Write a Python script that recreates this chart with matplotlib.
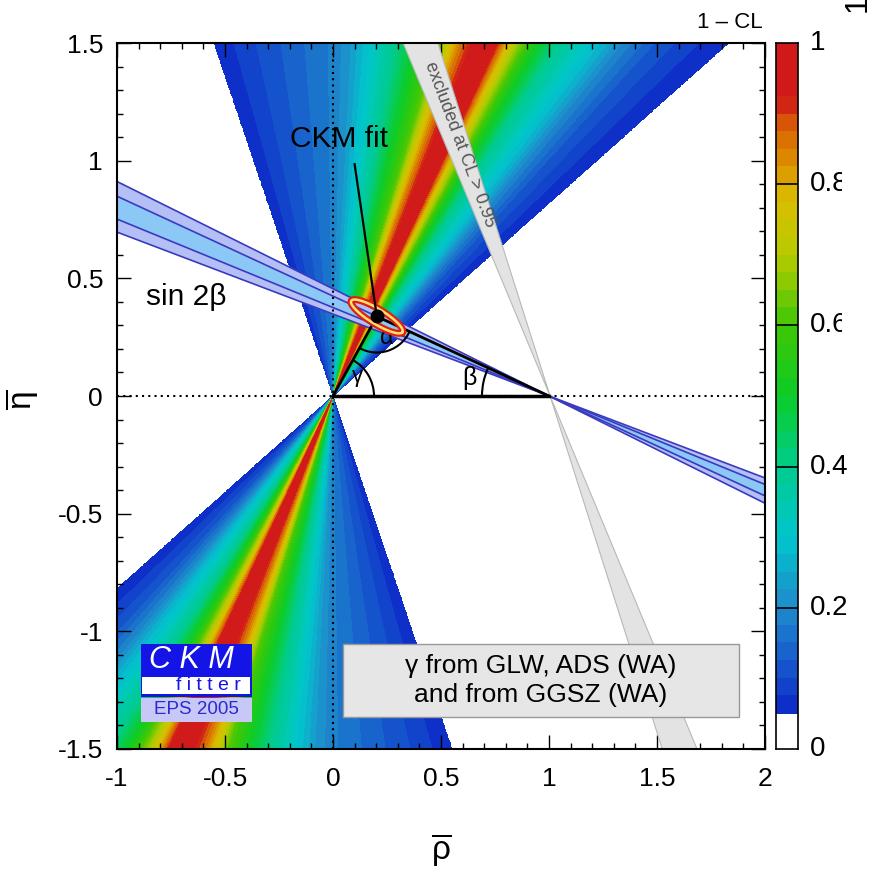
import numpy as np
import matplotlib
matplotlib.use('Agg')
import matplotlib.pyplot as plt
from matplotlib.colors import LinearSegmentedColormap, ListedColormap, BoundaryNorm
from matplotlib.patches import Arc, Rectangle, Polygon
from matplotlib.transforms import Bbox, TransformedBbox, IdentityTransform

plt.rcParams['font.family'] = ['Liberation Sans', 'DejaVu Sans']
plt.rcParams['mathtext.fontset'] = 'custom'
plt.rcParams['mathtext.rm'] = 'Liberation Sans'
plt.rcParams['mathtext.it'] = 'Liberation Sans:italic'
plt.rcParams['axes.unicode_minus'] = False

# ---------------- data ----------------
# gamma constraint: 1-CL versus polar angle (deg) of (rho, eta) around origin
gamma_angle = [39.3, 42, 45, 48, 50, 53, 55.3, 58, 60, 61.5, 62.5, 63.2, 65,
               67, 68.5, 70, 72, 75, 79, 83, 87, 90, 95, 100, 105, 110.2]
gamma_cl = [0.051, 0.08, 0.12, 0.19, 0.26, 0.34, 0.40, 0.52, 0.65, 0.76, 0.86, 0.93, 1.0,
            0.92, 0.85, 0.76, 0.62, 0.52, 0.40, 0.31, 0.22, 0.18, 0.15, 0.12, 0.09, 0.051]

# sin2beta band: beta angles (deg) around (1, 0)
beta_outer = [19.2, 24.5]
beta_inner = [20.6, 23.0]

# grey excluded band: hourglass around apex, edge angles (deg)
grey_apex = (1.005, 0.0)
grey_angles = [109.1, 114.4]

# CKM fit
fit_rho, fit_eta = 0.203, 0.338
fit_label_from = (0.10, 0.985)

# colour scale
cmap_values = [0.05, 0.10, 0.20, 0.30, 0.40, 0.50, 0.60, 0.70, 0.78, 0.85, 0.90, 0.92, 1.00]
cmap_colors = [(0.05, 0.15, 0.78), (0.08, 0.30, 0.80), (0.12, 0.55, 0.80), (0.00, 0.78, 0.80),
               (0.00, 0.80, 0.55), (0.05, 0.80, 0.15), (0.25, 0.78, 0.02), (0.72, 0.80, 0.00),
               (0.86, 0.74, 0.00), (0.86, 0.50, 0.00), (0.84, 0.28, 0.05), (0.82, 0.10, 0.10),
               (0.82, 0.10, 0.10)]

x_ticks = [-1, -0.5, 0, 0.5, 1, 1.5, 2]
x_ticklabels = ['-1', '-0.5', '0', '0.5', '1', '1.5', '2']
y_ticks = [-1.5, -1, -0.5, 0, 0.5, 1, 1.5]
y_ticklabels = ['-1.5', '-1', '-0.5', '0', '0.5', '1', '1.5']
cb_ticks = [0, 0.2, 0.4, 0.6, 0.8, 1]
cb_ticklabels = ['0', '0.2', '0.4', '0.6', '0.8', '1']

# ---------------- colour map ----------------
base = LinearSegmentedColormap.from_list(
    'ckm', [((v - cmap_values[0]) / (cmap_values[-1] - cmap_values[0]), c)
            for v, c in zip(cmap_values, cmap_colors)])
bounds = np.concatenate([[0.0], np.arange(0.05, 1.0001, 0.025)])
bounds[-1] = 1.001
mids = 0.5 * (bounds[1:-1] + bounds[2:])
cols = ['white'] + [base((m - 0.05) / 0.95) for m in mids]
cmap = ListedColormap(cols)
norm = BoundaryNorm(bounds, cmap.N)

# ---------------- figure ----------------
W, H = 872, 869
fig = plt.figure(figsize=(W / 100, H / 100), dpi=100)
L, R, T, B = 117, 765, 43, 749
ax = fig.add_axes([L / W, 1 - B / H, (R - L) / W, (B - T) / H])
ax.set_xlim(-1, 2)
ax.set_ylim(-1.5, 1.5)

# gamma wedge
rr = np.linspace(-1, 2, 900)
ee = np.linspace(-1.5, 1.5, 900)
RR, EE = np.meshgrid(rr, ee)
theta = np.degrees(np.arctan2(EE, RR)) % 180
Z = np.interp(theta, gamma_angle, gamma_cl, left=0, right=0)
ax.contourf(RR, EE, Z, levels=bounds, cmap=cmap, norm=norm, zorder=1)

# grey excluded band
ga, gb = np.radians(grey_angles)
Lg = 3.0
ax0, ay0 = grey_apex
up = [(ax0, ay0), (ax0 + Lg * np.cos(ga), ay0 + Lg * np.sin(ga)),
      (ax0 + Lg * np.cos(gb), ay0 + Lg * np.sin(gb))]
dn = [(ax0, ay0), (ax0 - Lg * np.cos(ga), ay0 - Lg * np.sin(ga)),
      (ax0 - Lg * np.cos(gb), ay0 - Lg * np.sin(gb))]
for poly in (up, dn):
    ax.add_patch(Polygon(poly, closed=True, facecolor='#e3e3e3', edgecolor='#b8b8b8',
                         lw=0.8, zorder=2))
gmid = np.radians(np.mean(grey_angles))
t_along = 1.15
ax.text(ax0 + t_along * np.cos(gmid) + 0.01, ay0 + t_along * np.sin(gmid), 'excluded at CL > 0.95',
        rotation=-69.5, rotation_mode='anchor', ha='center', va='center',
        fontsize=13, color='#555555', zorder=3)

# sin2beta band
rho_line = np.array([-1.0, 2.0])
def beta_line(b):
    return -np.tan(np.radians(b)) * (rho_line - 1)
ax.fill_between(rho_line, beta_line(beta_outer[0]), beta_line(beta_outer[1]),
                color='#b4bff5', lw=0, zorder=3)
ax.fill_between(rho_line, beta_line(beta_inner[0]), beta_line(beta_inner[1]),
                color='#8cc8f5', lw=0, zorder=3)
for b in beta_outer + beta_inner:
    ax.plot(rho_line, beta_line(b), color='#3a3ac0', lw=1.2, zorder=3.5)

# dotted axes lines
ax.axhline(0, color='black', ls=(0, (1, 2)), lw=1.5, zorder=4)
ax.axvline(0, color='black', ls=(0, (1, 2)), lw=1.5, zorder=4)

# triangle
ax.plot([0, 1], [0, 0], color='black', lw=2.5, zorder=5)
ax.plot([0, fit_rho, 1], [0, fit_eta, 0], color='black', lw=2.0, zorder=5)

# angle arcs (circular on screen)
sx, sy = 216.0, 235.0
def arc(cx, cy, rpx, t1, t2):
    ax.add_patch(Arc((cx, cy), 2 * rpx / sx, 2 * rpx / sy, theta1=t1, theta2=t2,
                     color='black', lw=1.5, zorder=5))
ang_g = np.degrees(np.arctan2(fit_eta, fit_rho))
ang_b = np.degrees(np.arctan2(fit_eta, fit_rho - 1))
arc(0, 0, 41, 0, ang_g)
arc(1, 0, 67, ang_b, 180)
a1 = np.degrees(np.arctan2(-fit_eta, -fit_rho)) % 360
a2 = np.degrees(np.arctan2(-fit_eta, 1 - fit_rho)) % 360
arc(fit_rho, fit_eta, 36, a1, a2)
ax.text(0.115, 0.075, r'$\mathrm{γ}$', fontsize=16, ha='center', va='center', zorder=6)
ax.text(0.632, 0.078, 'β', fontsize=18, ha='center', va='center', zorder=6)
ax.text(0.25, 0.245, 'α', fontsize=17, ha='center', va='center', zorder=6)

# CKM fit contour
t = np.linspace(0, 2 * np.pi, 200)
phi = np.radians(31.4)
a_px, b_px = 30, 7.5
ex = fit_rho + (a_px * np.cos(phi) * np.cos(t) + b_px * np.sin(phi) * np.sin(t)) / sx
ey = fit_eta + (-a_px * np.sin(phi) * np.cos(t) + b_px * np.cos(phi) * np.sin(t)) / sy
ax.plot(ex, ey, color='#e02010', lw=5, zorder=6)
ax.plot(ex, ey, color='#ffe070', lw=1.8, zorder=6.1)
ax.plot([fit_label_from[0], fit_rho], [fit_label_from[1], fit_eta], color='black', lw=1.6, zorder=6.2)
ax.plot([fit_rho], [fit_eta], 'o', color='black', ms=9, zorder=6.3)
ax.text(0.03, 1.09, 'CKM fit', fontsize=21.5, ha='center', va='center', zorder=7)
ax.text(-0.68, 0.42, 'sin 2β', fontsize=21.5, ha='center', va='center', zorder=7)

# legend box
ax.add_patch(Rectangle((0.044, -1.365), 1.835, 0.31, facecolor='#e6e6e6', edgecolor='#999999',
                       lw=1.0, zorder=7))
ax.text(0.96, -1.148, 'γ from GLW, ADS (WA)', fontsize=19, ha='center', va='center', zorder=8)
ax.text(0.96, -1.272, 'and from GGSZ (WA)', fontsize=19, ha='center', va='center', zorder=8)

# logo
ax.add_patch(Rectangle((-0.889, -1.28), 0.515, 0.226, facecolor='#1414e6', lw=0, zorder=7))
ax.add_patch(Rectangle((-0.882, -1.265), 0.50, 0.073, facecolor='white', lw=0, zorder=7.1))
ax.add_patch(Rectangle((-0.889, -1.385), 0.515, 0.102, facecolor='#c8c8f8', lw=0, zorder=7))
ax.text(-0.655, -1.122, 'C K M', fontsize=22, style='italic', color='white',
        ha='center', va='center', zorder=8)
ax.text(-0.575, -1.232, 'f i t t e r', fontsize=14, color='#1414e6', ha='center', va='center', zorder=8)
ax.text(-0.63, -1.334, 'EPS 2005', fontsize=13.5, color='#2a2ad0', ha='center', va='center', zorder=8)

# ticks
ax.set_xticks(x_ticks)
ax.set_xticklabels(x_ticklabels)
ax.set_yticks(y_ticks)
ax.set_yticklabels(y_ticklabels)
ax.set_xticks(np.arange(-1, 2.001, 0.1), minor=True)
ax.set_yticks(np.arange(-1.5, 1.501, 0.1), minor=True)
ax.tick_params(which='both', direction='in', top=True, right=True, width=1.0, labelsize=19)
ax.tick_params(which='major', length=10)
ax.tick_params(which='minor', length=4.5)
ax.tick_params(axis='x', pad=13)
ax.tick_params(axis='y', pad=10)
for s in ax.spines.values():
    s.set_linewidth(1.5)
    s.set_zorder(10)

fig.text(441 / W, 1 - 850 / H, r'$\overline{\mathrm{ρ}}$', fontsize=24, ha='center', va='center')
fig.text(22 / W, 1 - 400 / H, r'$\overline{\mathrm{η}}$', fontsize=24, ha='center', va='center',
         rotation=90)
fig.text(730 / W, 1 - 22 / H, '1 – CL', fontsize=16, ha='center', va='center')
fig.text(858 / W, 1 - 4 / H, '1', fontsize=22, ha='center', va='center', rotation=90)

# colour bar
cax = fig.add_axes([776 / W, 1 - B / H, 22 / W, (B - T) / H])
cv = np.linspace(0, 1, 801).reshape(-1, 1)
cax.imshow(cv, aspect='auto', origin='lower', extent=[0, 1, 0, 1], cmap=cmap, norm=norm,
           interpolation='nearest')
for v in [0.2, 0.4, 0.6, 0.8]:
    cax.axhline(v, color='black', lw=1.2)
cax.set_xlim(0, 1)
cax.set_ylim(0, 1)
cax.set_xticks([])
cax.set_yticks([])
for s in cax.spines.values():
    s.set_linewidth(1.2)

# colour-bar labels (upper ones are cut at the right edge as in the reference)
clip = TransformedBbox(Bbox.from_extents(0, 0, 842, H), IdentityTransform())
for v, lab in zip(cb_ticks, cb_ticklabels):
    tx = cax.text(810 / W, v, lab, transform=cax.get_yaxis_transform().__class__(
        fig.transFigure, cax.transData) if False else
        matplotlib.transforms.blended_transform_factory(fig.transFigure, cax.transData),
        fontsize=20, ha='left', va='center')
    if v in (0.6, 0.8):
        tx.set_clip_box(clip)
        tx.set_clip_on(True)

fig.savefig('out.png', dpi=100)
